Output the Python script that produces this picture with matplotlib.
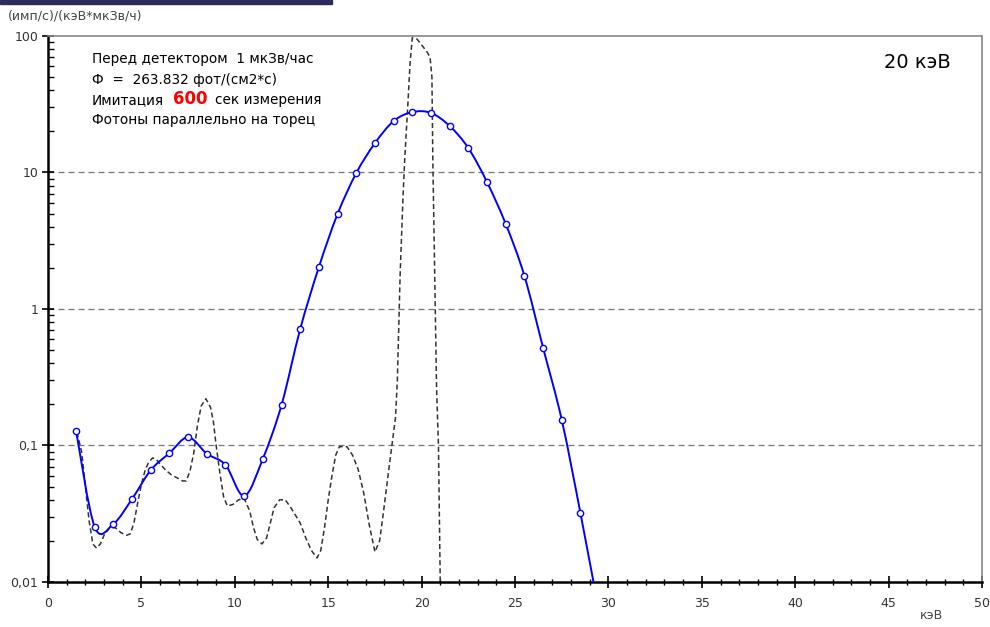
import matplotlib
matplotlib.use("Agg")
import numpy as np
from matplotlib import pyplot as plt
from matplotlib.ticker import FixedLocator, NullFormatter, MultipleLocator
from matplotlib.patches import Rectangle, PathPatch
from matplotlib.path import Path

plt.rcParams['font.family'] = ['DejaVu Sans']

# измеренный спектр (синие точки)
energy = [1.5, 2.5, 3.5, 4.5, 5.5, 6.5, 7.5, 8.5, 9.5, 10.5, 11.5, 12.5, 13.5, 14.5,
          15.5, 16.5, 17.5, 18.5, 19.5, 20.5, 21.5, 22.5, 23.5, 24.5, 25.5, 26.5,
          27.5, 28.5, 29.5]
counts = [0.128, 0.0253, 0.0266, 0.0406, 0.066, 0.088, 0.115, 0.087, 0.072, 0.0427,
          0.080, 0.198, 0.713, 2.03, 4.97, 9.9, 16.4, 23.8, 27.7, 27.3, 21.9, 15.1,
          8.5, 4.2, 1.75, 0.52, 0.154, 0.032, 0.006]

# исходный спектр (пунктир)
e_src = [1.55, 1.8, 2.0, 2.2, 2.4, 2.6, 2.8, 3.0, 3.3, 3.6, 3.9, 4.2, 4.4, 4.6, 4.8,
         5.0, 5.2, 5.4, 5.6, 5.8, 6.0, 6.3, 6.6, 6.9, 7.2, 7.4, 7.6, 7.8, 8.0, 8.2,
         8.45, 8.7, 8.85, 9.0, 9.2, 9.4, 9.6, 9.9, 10.2, 10.5, 10.8, 11.0, 11.2,
         11.45, 11.7, 11.9, 12.1, 12.4, 12.7, 13.0, 13.3, 13.5, 13.8, 14.1, 14.4,
         14.6, 14.8, 15.0, 15.2, 15.4, 15.6, 16.0, 16.3, 16.6, 16.9, 17.2, 17.5,
         17.75, 17.95, 18.2, 18.4, 18.6, 18.7, 18.85, 19.0, 19.1, 19.27, 19.38,
         19.5, 19.75, 20.0, 20.3, 20.45, 20.55, 20.6, 20.72, 20.8, 20.9, 21.0]
c_src = [0.125, 0.09, 0.05, 0.028, 0.019, 0.0177, 0.019, 0.022, 0.025, 0.025, 0.023,
         0.022, 0.0225, 0.027, 0.038, 0.052, 0.066, 0.076, 0.081, 0.079, 0.073,
         0.066, 0.061, 0.058, 0.055, 0.055, 0.065, 0.088, 0.14, 0.195, 0.22, 0.19,
         0.15, 0.10, 0.063, 0.042, 0.036, 0.037, 0.040, 0.041, 0.033, 0.025, 0.0205,
         0.019, 0.021, 0.027, 0.035, 0.040, 0.040, 0.035, 0.030, 0.027, 0.021,
         0.017, 0.015, 0.017, 0.025, 0.040, 0.060, 0.085, 0.098, 0.098, 0.085,
         0.067, 0.045, 0.026, 0.0166, 0.020, 0.032, 0.060, 0.098, 0.16, 0.30, 1.8,
         6.5, 13, 33, 63, 97, 95, 86, 76, 70, 50, 12, 1.2, 0.26, 0.10, 0.009]

y_ticks = [0.01, 0.1, 1, 10, 100]
y_labels = ["0,01", "0,1", "1", "10", "100"]
x_ticks = [0, 5, 10, 15, 20, 25, 30, 35, 40, 45, 50]


def smooth_path(xs, ys):
    # гладкая кривая через точки (Catmull-Rom -> Безье), в лог. координатах по y
    px = np.asarray(xs, float)
    py = np.log10(ys)
    verts = [(px[0], py[0])]
    codes = [Path.MOVETO]
    n = len(px)
    for i in range(n - 1):
        i0 = max(i - 1, 0)
        i3 = min(i + 2, n - 1)
        c1 = (px[i] + (px[i + 1] - px[i0]) / 6, py[i] + (py[i + 1] - py[i0]) / 6)
        c2 = (px[i + 1] - (px[i3] - px[i]) / 6, py[i + 1] - (py[i3] - py[i]) / 6)
        verts += [c1, c2, (px[i + 1], py[i + 1])]
        codes += [Path.CURVE4] * 3
    verts = [(vx, 10 ** vy) for vx, vy in verts]
    return Path(verts, codes)


fig = plt.figure(figsize=(9.9, 6.27), dpi=100)
ax = fig.add_axes([0.0485, 0.0718, 0.9435, 0.8708])

ax.set_yscale('log')
ax.set_xlim(0, 50)
ax.set_ylim(0.01, 100)

ax.plot(e_src, c_src, color='#333333', lw=1.1, dashes=(3.3, 2.0))
ax.add_patch(PathPatch(smooth_path(energy, counts), facecolor='none',
                       edgecolor='#0000ff', lw=1.4, zorder=3))
ax.plot(energy, counts, ls='none', marker='o', ms=4.5,
        mfc='white', mec='#0000ff', mew=1.0, zorder=4)

ax.yaxis.set_major_locator(FixedLocator(y_ticks))
ax.set_yticklabels(y_labels)
ax.yaxis.set_minor_formatter(NullFormatter())
ax.set_xticks(x_ticks)
ax.xaxis.set_minor_locator(MultipleLocator(1))

ax.tick_params(axis='y', which='major', direction='inout', length=8, width=1.2,
               labelsize=9, labelcolor='#333333', pad=3)
ax.tick_params(axis='y', which='minor', direction='in', length=4, width=1)
ax.tick_params(axis='x', which='major', direction='inout', length=9, width=1.2,
               labelsize=9, labelcolor='#333333', pad=6)
ax.tick_params(axis='x', which='minor', direction='inout', length=4, width=1)

for yv in [0.1, 1, 10]:
    ax.axhline(yv, color='#777777', lw=0.9, dashes=(4.8, 3.2), zorder=0)

ax.spines['left'].set_linewidth(1.8)
ax.spines['bottom'].set_linewidth(1.8)
ax.spines['top'].set_color('#888888')
ax.spines['right'].set_color('#888888')
ax.spines['top'].set_linewidth(1.2)
ax.spines['right'].set_linewidth(1.2)

# подписи
fig.text(0.008, 0.975, "(имп/с)/(кэВ*мкЗв/ч)", fontsize=9, color='#444444',
         va='center', ha='left')
fig.text(0.929, 0.019, "кэВ", fontsize=9, color='#444444', va='center', ha='left')

tx = 0.047
fs = 9.8
ax.text(tx, 0.957, "Перед детектором  1 мкЗв/час", transform=ax.transAxes,
        fontsize=fs, va='center')
ax.text(tx, 0.920, "Ф  =  263.832 фот/(см2*с)", transform=ax.transAxes,
        fontsize=fs, va='center')
ax.text(tx, 0.883, "Имитация", transform=ax.transAxes, fontsize=fs, va='center')
ax.text(0.134, 0.885, "600", transform=ax.transAxes, fontsize=12,
        fontweight='bold', color='red', va='center')
ax.text(0.179, 0.883, "сек измерения", transform=ax.transAxes, fontsize=fs,
        va='center')
ax.text(tx, 0.846, "Фотоны параллельно на торец", transform=ax.transAxes,
        fontsize=fs, va='center')
ax.text(0.966, 0.952, "20 кэВ", transform=ax.transAxes, fontsize=14,
        va='center', ha='right')

# кусок рамки окна сверху
fig.patches.append(Rectangle((0, 0.993), 0.335, 0.007, transform=fig.transFigure,
                             color='#2b2b5e', zorder=5))

plt.savefig("out.png", dpi=100)
